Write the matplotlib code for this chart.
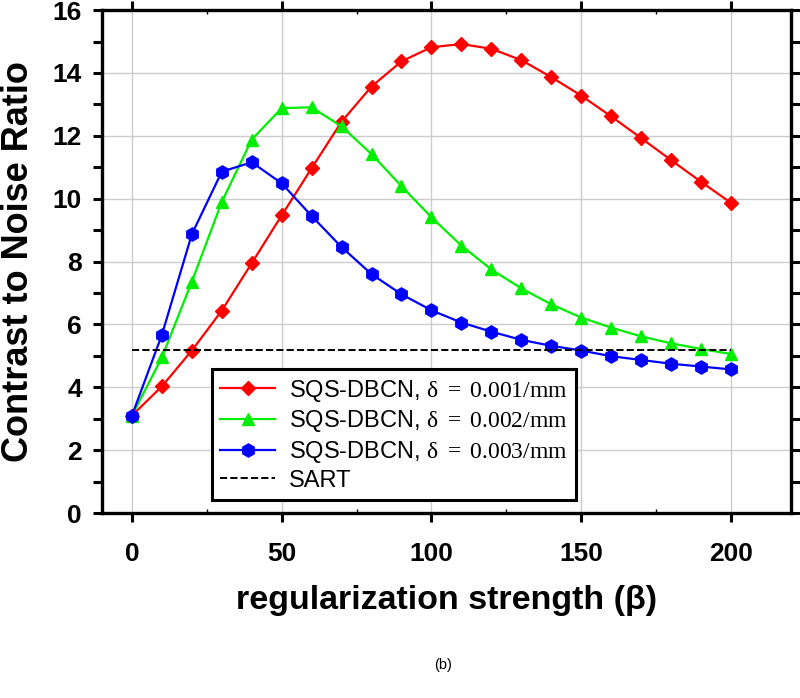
import matplotlib
matplotlib.use("Agg")
from matplotlib import pyplot as plt
from matplotlib.ticker import MultipleLocator

plt.rcParams['font.family'] = ['Liberation Sans', 'DejaVu Sans']
plt.rcParams['mathtext.fontset'] = 'custom'
plt.rcParams['mathtext.rm'] = 'Liberation Serif'
plt.rcParams['mathtext.it'] = 'Liberation Serif:italic'

# beta values
beta = [0, 10, 20, 30, 40, 50, 60, 70, 80, 90, 100,
        110, 120, 130, 140, 150, 160, 170, 180, 190, 200]

cnr_d001 = [3.1, 4.03, 5.17, 6.44, 7.95, 9.47, 10.97, 12.45, 13.57, 14.37, 14.82,
            14.92, 14.77, 14.41, 13.87, 13.28, 12.62, 11.93, 11.23, 10.54, 9.87]
cnr_d002 = [3.1, 4.95, 7.36, 9.9, 11.88, 12.88, 12.91, 12.3, 11.42, 10.4, 9.41,
            8.51, 7.75, 7.15, 6.64, 6.22, 5.9, 5.62, 5.4, 5.22, 5.06]
cnr_d003 = [3.1, 5.67, 8.87, 10.86, 11.16, 10.49, 9.45, 8.46, 7.6, 6.96, 6.45,
            6.06, 5.77, 5.51, 5.32, 5.17, 4.99, 4.87, 4.75, 4.66, 4.57]
sart = 5.2

labels = [r'SQS-DBCN, $\mathrm{\delta\ =\ 0.001/mm}$',
          r'SQS-DBCN, $\mathrm{\delta\ =\ 0.002/mm}$',
          r'SQS-DBCN, $\mathrm{\delta\ =\ 0.003/mm}$',
          'SART']

fig = plt.figure(figsize=(8, 6.98), dpi=100)
ax = fig.add_axes([0.1275, 0.265, 0.861, 0.7205])

ax.plot(beta, cnr_d001, color='#ff0000', marker='D', markersize=7.5, lw=1.6, label=labels[0])
ax.plot(beta, cnr_d002, color='#00ee00', marker='^', markersize=9, lw=1.6, label=labels[1])
ax.plot(beta, cnr_d003, color='#0000ff', marker='h', markersize=9.5, lw=1.6, label=labels[2])
ax.plot([beta[0], beta[-1]], [sart, sart], 'k--', lw=1.4, label=labels[3])

ax.set_xlim(-10, 220)
ax.set_ylim(0, 16)
ax.xaxis.set_major_locator(MultipleLocator(50))
ax.xaxis.set_minor_locator(MultipleLocator(25))
ax.yaxis.set_major_locator(MultipleLocator(2))
ax.yaxis.set_minor_locator(MultipleLocator(1))
ax.grid(True, which='major', color='#cccccc', lw=1)
ax.set_axisbelow(True)

for s in ax.spines.values():
    s.set_linewidth(2.4)
ax.tick_params(axis='y', which='both', direction='out', left=True, right=True,
               length=6.5, width=2.2)
ax.tick_params(axis='y', which='major', labelsize=19, pad=8)
ax.tick_params(axis='x', which='major', direction='out', top=True, bottom=True,
               length=6.5, width=2.2, labelsize=19, pad=14)
ax.tick_params(axis='x', which='minor', direction='in', top=True, bottom=True,
               length=3, width=1)
for t in ax.get_xticklabels() + ax.get_yticklabels():
    t.set_fontweight('bold')

ax.set_xlabel('regularization strength (\u03b2)', fontsize=24.5, fontweight='bold', labelpad=14)
ax.set_ylabel('Contrast to Noise Ratio', fontsize=26, fontweight='bold', labelpad=12)

leg = ax.legend(loc='lower left', bbox_to_anchor=(0.16, 0.026), borderaxespad=0,
                fontsize=17, fancybox=False, edgecolor='black', framealpha=1,
                handlelength=2.3, handletextpad=0.6, labelspacing=0.2, borderpad=0.35)
leg.get_frame().set_linewidth(2.2)

fig.text(0.554, 0.047, '(b)', fontsize=10.5, ha='center', va='center')

fig.savefig('out.png', dpi=100)
